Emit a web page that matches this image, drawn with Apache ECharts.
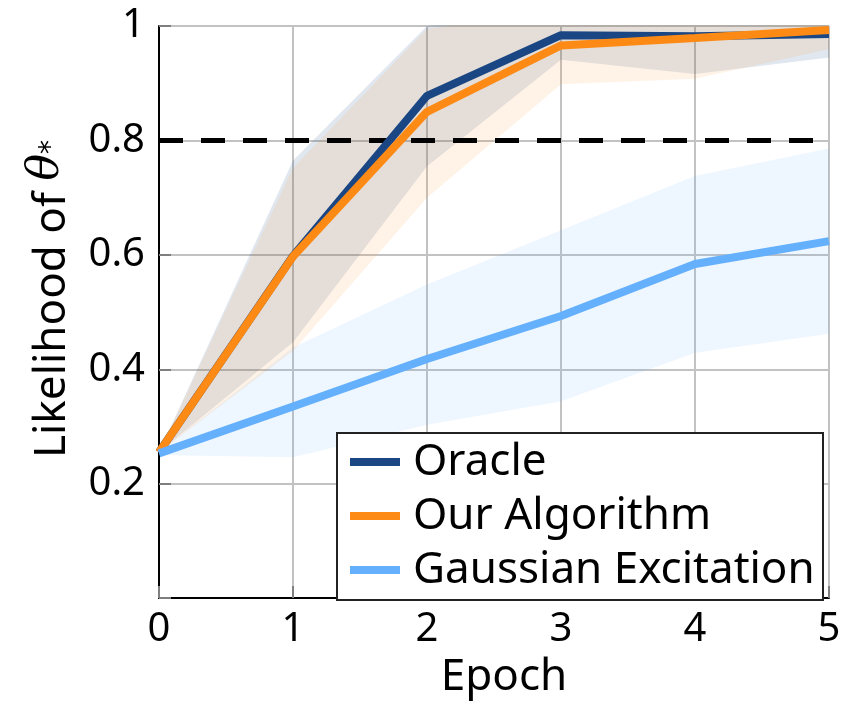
<!DOCTYPE html>
<html>
<head>
<meta charset="utf-8">
<script src="https://cdn.jsdelivr.net/npm/echarts@6/dist/echarts.min.js"></script>
<style>
  html, body { margin: 0; padding: 0; background: #ffffff; }
  #chart { width: 851px; height: 704px; }
</style>
</head>
<body>
<div id="chart"></div>
<script>
// ---- data ----
const epochs = ['0', '1', '2', '3', '4', '5'];

const oracleMean  = [0.255, 0.598, 0.878, 0.984, 0.982, 0.986];
const oracleLower = [0.255, 0.447, 0.755, 0.941, 0.916, 0.945];
const oracleUpper = [0.255, 0.765, 1.000, 1.030, 1.030, 1.030];

const ourMean  = [0.255, 0.597, 0.850, 0.966, 0.979, 0.993];
const ourLower = [0.255, 0.432, 0.700, 0.898, 0.908, 0.960];
const ourUpper = [0.255, 0.752, 0.995, 1.030, 1.050, 1.030];

const gaussMean  = [0.253, 0.335, 0.418, 0.493, 0.584, 0.624];
const gaussLower = [0.250, 0.246, 0.303, 0.344, 0.429, 0.462];
const gaussUpper = [0.256, 0.438, 0.548, 0.643, 0.738, 0.786];

const threshold = 0.8;
const seriesNames = ['Oracle', 'Our Algorithm', 'Gaussian Excitation'];

// ---- styling ----
const FONT = 'Noto Sans';
const colOracle = '#1a4783';
const colOur = '#fd8a15';
const colGauss = '#64b0fc';

const diffs = (up, lo) => up.map((u, i) => u - lo[i]);

function band(id, lower, upper, fill) {
  return [
    {
      name: id + '_lo', type: 'line', stack: id, data: lower.slice(),
      symbol: 'none', lineStyle: { opacity: 0 }, silent: true, z: 1
    },
    {
      name: id + '_hi', type: 'line', stack: id, data: diffs(upper, lower),
      symbol: 'none', lineStyle: { opacity: 0 }, areaStyle: { color: fill, opacity: 1 },
      silent: true, z: 1
    }
  ];
}

const chart = echarts.init(document.getElementById('chart'), null, { renderer: 'canvas' });

const option = {
  animation: false,
  backgroundColor: '#ffffff',
  grid: { left: 159, right: 22, top: 26, bottom: 99 },
  xAxis: {
    type: 'category', data: epochs, boundaryGap: false,
    name: 'Epoch', nameLocation: 'middle', nameGap: 46,
    nameTextStyle: { fontFamily: FONT, fontSize: 44, color: '#000', padding: [0, 0, 0, 20] },
    axisLine: { show: true, lineStyle: { color: '#000', width: 2 } },
    axisTick: { show: true, inside: true, length: 12, lineStyle: { color: '#7f7f7f', width: 2 } },
    axisLabel: { fontFamily: FONT, fontSize: 40, color: '#000', margin: 12, interval: 0 },
    splitLine: { show: true, interval: 0, lineStyle: { color: '#c2c2c2', width: 2 } }
  },
  yAxis: {
    type: 'value', min: 0, max: 1, interval: 0.2,
    name: 'Likelihood of {th|θ}{st|*}', nameLocation: 'middle', nameRotate: 90, nameGap: 80,
    nameTextStyle: {
      fontFamily: FONT, fontSize: 44, color: '#000', padding: [0, 0, 0, 26],
      rich: {
        th: { fontFamily: 'DejaVu Serif', fontStyle: 'italic', fontSize: 44, color: '#000', padding: [0, 0, 10, 0] },
        st: { fontFamily: 'DejaVu Sans', fontSize: 28, color: '#000' }
      }
    },
    axisLine: { show: true, lineStyle: { color: '#000', width: 2 } },
    axisTick: { show: true, inside: true, length: 12, lineStyle: { color: '#7f7f7f', width: 2 } },
    axisLabel: {
      fontFamily: FONT, fontSize: 40, color: '#000', margin: 14,
      formatter: (v) => (Math.abs(v) < 1e-9 ? '' : String(+v.toFixed(1)))
    },
    splitLine: { show: true, lineStyle: { color: '#c2c2c2', width: 2 } }
  },
  legend: {
    data: seriesNames,
    orient: 'vertical',
    left: 337, top: 433,
    padding: [7, 5, 8, 13],
    itemGap: 10,
    itemWidth: 50, itemHeight: 8,
    icon: 'rect',
    backgroundColor: '#ffffff',
    borderColor: '#222222', borderWidth: 2, borderRadius: 0,
    textStyle: {
      fontFamily: FONT, fontSize: 44, color: '#000', lineHeight: 44,
      width: 405, padding: [0, 0, 0, 8]
    }
  },
  series: [
    ...band('gaussBand', gaussLower, gaussUpper, 'rgba(100,176,252,0.11)'),
    ...band('oracleBand', oracleLower, oracleUpper, 'rgba(26,72,130,0.13)'),
    ...band('ourBand', ourLower, ourUpper, 'rgba(253,138,21,0.10)'),
    {
      name: 'threshold', type: 'line', data: epochs.map(() => threshold),
      symbol: 'none', silent: true, z: 2,
      lineStyle: { color: '#000', width: 5, type: [24, 18] }
    },
    {
      name: seriesNames[0], type: 'line', data: oracleMean, symbol: 'none', z: 3,
      color: colOracle, lineStyle: { color: colOracle, width: 8 }
    },
    {
      name: seriesNames[1], type: 'line', data: ourMean, symbol: 'none', z: 3,
      color: colOur, lineStyle: { color: colOur, width: 8 }
    },
    {
      name: seriesNames[2], type: 'line', data: gaussMean, symbol: 'none', z: 3,
      color: colGauss, lineStyle: { color: colGauss, width: 8 }
    }
  ]
};

chart.setOption(option);
</script>
</body>
</html>
